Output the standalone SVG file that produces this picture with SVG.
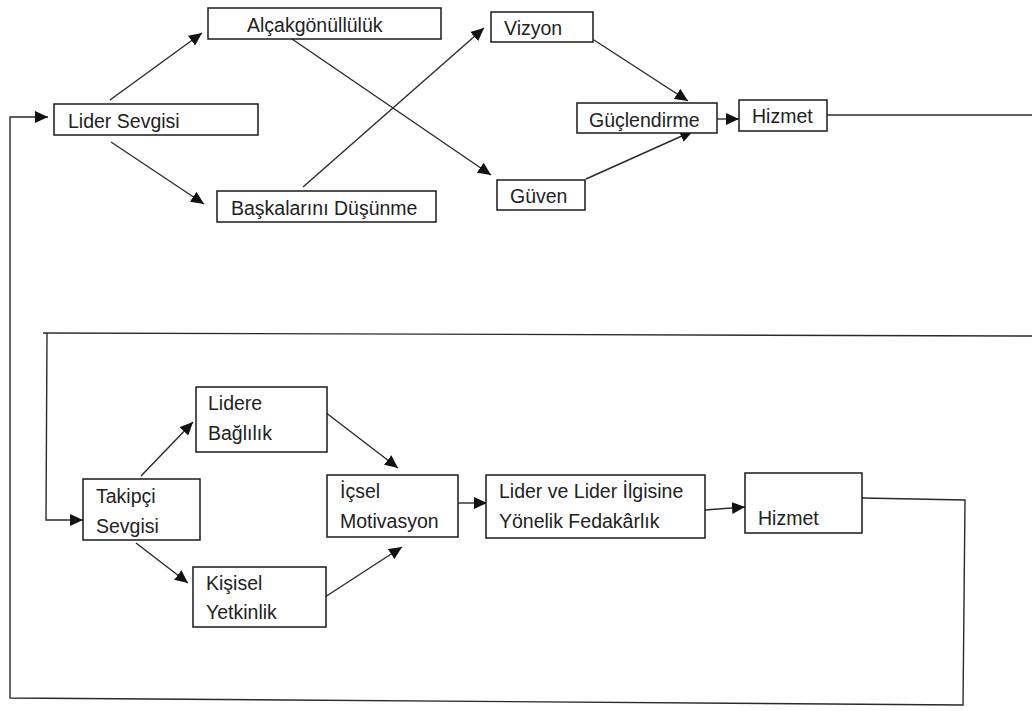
<svg xmlns="http://www.w3.org/2000/svg" width="1032" height="711" viewBox="0 0 1032 711">
<style>
.box{fill:#fff;stroke:#1a1a1a;stroke-width:1.5}
.lbl{font-family:"Liberation Sans",Arial,sans-serif;font-size:19.5px;fill:#222}
.con{fill:none;stroke:#2a2a2a;stroke-width:1.4}
</style>
<defs>
<marker id="ah" markerUnits="userSpaceOnUse" markerWidth="14" markerHeight="12" refX="13" refY="6" orient="auto">
<path d="M0,0 L13,6 L0,12 z" fill="#111"/>
</marker>
</defs>
<rect width="1032" height="711" fill="#fff"/>
<g id="connectors">
<line class="con" x1="110" y1="100" x2="202" y2="33" marker-end="url(#ah)"/>
<line class="con" x1="111" y1="142" x2="204" y2="204" marker-end="url(#ah)"/>
<line class="con" x1="292" y1="39" x2="491" y2="175" marker-end="url(#ah)"/>
<line class="con" x1="303" y1="187" x2="484" y2="28" marker-end="url(#ah)"/>
<line class="con" x1="594" y1="40" x2="688" y2="101" marker-end="url(#ah)"/>
<line class="con" x1="586" y1="179" x2="693" y2="131" marker-end="url(#ah)"/>
<line class="con" x1="717" y1="119" x2="739" y2="119" marker-end="url(#ah)"/>
<line class="con" x1="827" y1="115" x2="1032" y2="115"/>
<polyline class="con" points="1032,336 43,333"/>
<polyline class="con" points="47,333 46,520 83,520" marker-end="url(#ah)"/>
<polyline class="con" points="862,498 965,500 963,705 10,698 10,117 48,117" marker-end="url(#ah)"/>
<line class="con" x1="141" y1="476" x2="193" y2="422" marker-end="url(#ah)"/>
<line class="con" x1="136" y1="543" x2="188" y2="583" marker-end="url(#ah)"/>
<line class="con" x1="325" y1="412" x2="398" y2="468" marker-end="url(#ah)"/>
<line class="con" x1="325" y1="597" x2="402" y2="547" marker-end="url(#ah)"/>
<line class="con" x1="456" y1="503" x2="487" y2="503" marker-end="url(#ah)"/>
<line class="con" x1="705" y1="510" x2="745" y2="507" marker-end="url(#ah)"/>
</g>
<g id="lider-sevgisi"><rect class="box" x="54" y="104" width="204" height="31"/><text class="lbl" x="68" y="128">Lider Sevgisi</text></g>
<g id="alcakgonulluluk"><rect class="box" x="208" y="8" width="233" height="31"/><text class="lbl" x="247" y="32">Alçakgönüllülük</text></g>
<g id="baskalarini-dusunme"><rect class="box" x="217" y="191" width="219" height="31"/><text class="lbl" x="231" y="215">Başkalarını Düşünme</text></g>
<g id="vizyon"><rect class="box" x="491" y="12" width="102" height="30"/><text class="lbl" x="504" y="35">Vizyon</text></g>
<g id="guclendirme"><rect class="box" x="577" y="103" width="140" height="30"/><text class="lbl" x="589" y="127">Güçlendirme</text></g>
<g id="hizmet-1"><rect class="box" x="739" y="100" width="88" height="31"/><text class="lbl" x="752" y="123">Hizmet</text></g>
<g id="guven"><rect class="box" x="497" y="180" width="88" height="30"/><text class="lbl" x="510" y="203">Güven</text></g>
<g id="takipci-sevgisi"><rect class="box" x="83" y="479" width="117" height="61"/><text class="lbl" x="96" y="503">Takipçi</text><text class="lbl" x="96" y="533">Sevgisi</text></g>
<g id="lidere-baglilik"><rect class="box" x="196" y="387" width="131" height="65"/><text class="lbl" x="208" y="410">Lidere</text><text class="lbl" x="208" y="440">Bağlılık</text></g>
<g id="kisisel-yetkinlik"><rect class="box" x="193" y="567" width="133" height="60"/><text class="lbl" x="206" y="590">Kişisel</text><text class="lbl" x="206" y="619">Yetkinlik</text></g>
<g id="icsel-motivasyon"><rect class="box" x="327" y="475" width="131" height="62"/><text class="lbl" x="340" y="498">İçsel</text><text class="lbl" x="340" y="528">Motivasyon</text></g>
<g id="fedakarlik"><rect class="box" x="486" y="475" width="219" height="63"/><text class="lbl" x="499" y="498">Lider ve Lider İlgisine</text><text class="lbl" x="499" y="528">Yönelik Fedakârlık</text></g>
<g id="hizmet-2"><rect class="box" x="745" y="473" width="117" height="60"/><text class="lbl" x="758" y="525">Hizmet</text></g>
</svg>
